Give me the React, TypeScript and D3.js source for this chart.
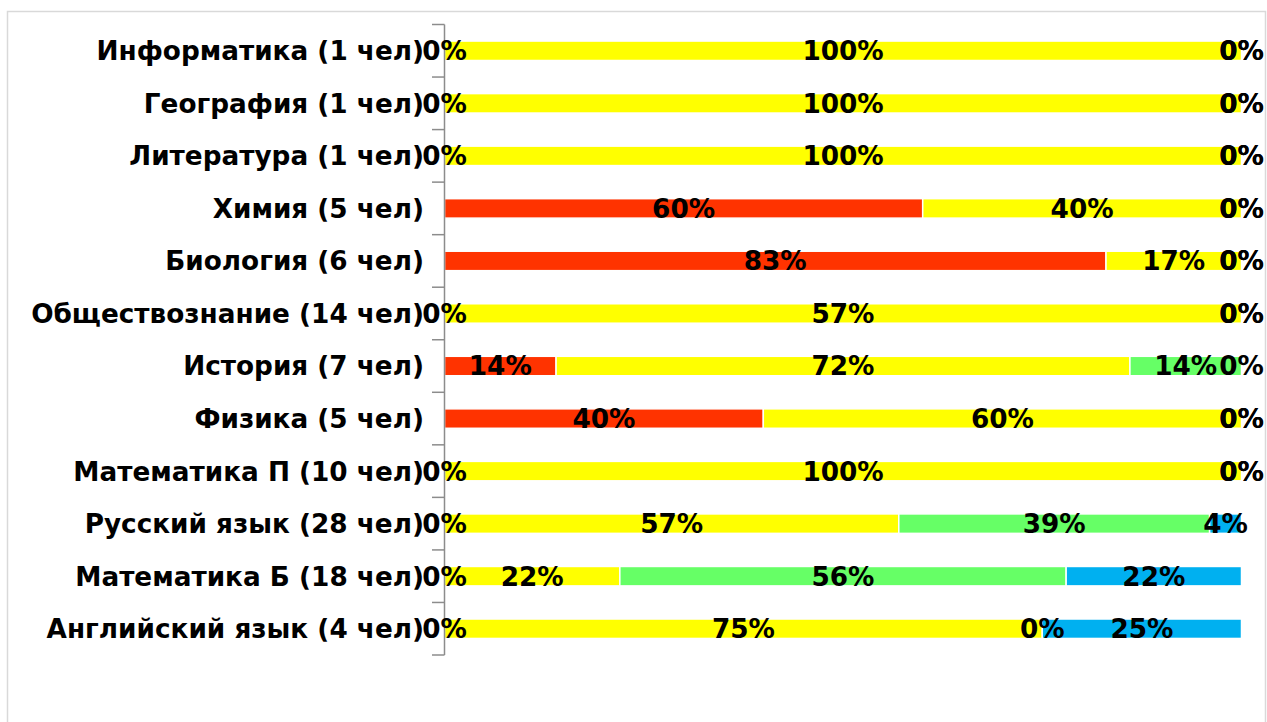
import { useEffect, useRef } from 'react';
import * as d3 from 'd3';

const subjects = [
  "Информатика (1 чел)",
  "География (1 чел)",
  "Литература (1 чел)",
  "Химия (5 чел)",
  "Биология (6 чел)",
  "Обществознание (14 чел)",
  "История (7 чел)",
  "Физика (5 чел)",
  "Математика П (10 чел)",
  "Русский язык (28 чел)",
  "Математика Б (18 чел)",
  "Английский язык (4 чел)",
];

// share of marks per subject, percent
const red = [0, 0, 0, 60, 83, 0, 14, 40, 0, 0, 0, 0];
const yellow = [100, 100, 100, 40, 17, 100, 72, 60, 100, 57, 22, 75];
const green = [0, 0, 0, 0, 0, 0, 14, 0, 0, 39, 56, 0];
const blue = [0, 0, 0, 0, 0, 0, 0, 0, 0, 4, 22, 25];

// data labels as printed on the chart
const redLabels = ["0%", "0%", "0%", "60%", "83%", "0%", "14%", "40%", "0%", "0%", "0%", "0%"];
const yellowLabels = ["100%", "100%", "100%", "40%", "17%", "57%", "72%", "60%", "100%", "57%", "22%", "75%"];
const greenLabels = ["0%", "0%", "0%", "0%", "0%", "0%", "14%", "0%", "0%", "39%", "56%", "0%"];
const blueLabels = ["0%", "0%", "0%", "0%", "0%", "0%", "0%", "0%", "0%", "4%", "22%", "25%"];

const seriesColors = ["#ff3300", "#ffff00", "#66ff66", "#00b0f0"];

export default function App() {
  const svgRef = useRef<SVGSVGElement>(null);

  useEffect(() => {
    if (!svgRef.current) return;
    const svg = d3.select(svgRef.current);
    svg.selectAll("*").remove();

    const font = "DejaVu Sans";
    const fontSize = 26.3;

    // chart frame
    svg.append("rect")
      .attr("x", 7.5).attr("y", 11.5)
      .attr("width", 1258).attr("height", 730)
      .attr("fill", "#fff")
      .attr("stroke", "#d9d9d9")
      .attr("stroke-width", 1.5);

    const x = d3.scaleLinear().domain([0, 100]).range([444.5, 1241.5]);
    const y = d3.scaleBand().domain(subjects).range([24.5, 655]).paddingInner(0.63).paddingOuter(0.315);
    const band = d3.scaleBand().domain(subjects).range([24.5, 655]);

    const series = [red, yellow, green, blue];
    const labels = [redLabels, yellowLabels, greenLabels, blueLabels];

    const rows = subjects.map((s, i) => {
      let acc = 0;
      return series.map((vals, k) => {
        const x0 = acc;
        acc += vals[i];
        return { subject: s, k, x0, x1: acc, label: labels[k][i] };
      });
    });

    const g = svg.append("g");
    rows.forEach(segs => {
      g.selectAll(null)
        .data(segs.filter(d => d.x1 > d.x0))
        .enter()
        .append("rect")
        .attr("x", d => x(d.x0))
        .attr("y", d => y(d.subject)!)
        .attr("width", d => x(d.x1) - x(d.x0))
        .attr("height", y.bandwidth())
        .attr("fill", d => seriesColors[d.k])
        .attr("stroke", "#fff")
        .attr("stroke-width", 1.5);
    });

    // axis line and ticks
    const axisColor = "#8c8c8c";
    svg.append("line")
      .attr("x1", 444.5).attr("x2", 444.5)
      .attr("y1", 24.5).attr("y2", 655)
      .attr("stroke", axisColor).attr("stroke-width", 1.5);
    const tickYs = subjects.map(s => band(s)!).concat([655]);
    svg.selectAll(".tick")
      .data(tickYs)
      .enter()
      .append("line")
      .attr("x1", 432).attr("x2", 444.5)
      .attr("y1", d => d).attr("y2", d => d)
      .attr("stroke", axisColor).attr("stroke-width", 1.5);

    // category labels
    svg.selectAll(".cat")
      .data(subjects)
      .enter()
      .append("text")
      .attr("x", 424)
      .attr("y", d => band(d)! + band.bandwidth() / 2)
      .attr("dy", "0.36em")
      .attr("text-anchor", "end")
      .attr("font-family", font)
      .attr("font-weight", "bold")
      .attr("font-size", fontSize)
      .attr("fill", "#000")
      .text(d => d);

    // data labels
    rows.forEach(segs => {
      svg.selectAll(null)
        .data(segs)
        .enter()
        .append("text")
        .attr("x", d => (x(d.x0) + x(d.x1)) / 2)
        .attr("y", d => band(d.subject)! + band.bandwidth() / 2)
        .attr("dy", "0.36em")
        .attr("text-anchor", "middle")
        .attr("font-family", font)
        .attr("font-weight", "bold")
        .attr("font-size", fontSize)
        .attr("fill", "#000")
        .text(d => d.label);
    });
  }, []);

  return (
    <svg ref={svgRef} width={1267} height={722}
      style={{ position: "absolute", left: 0, top: 0, background: "#fff" }} />
  );
}
